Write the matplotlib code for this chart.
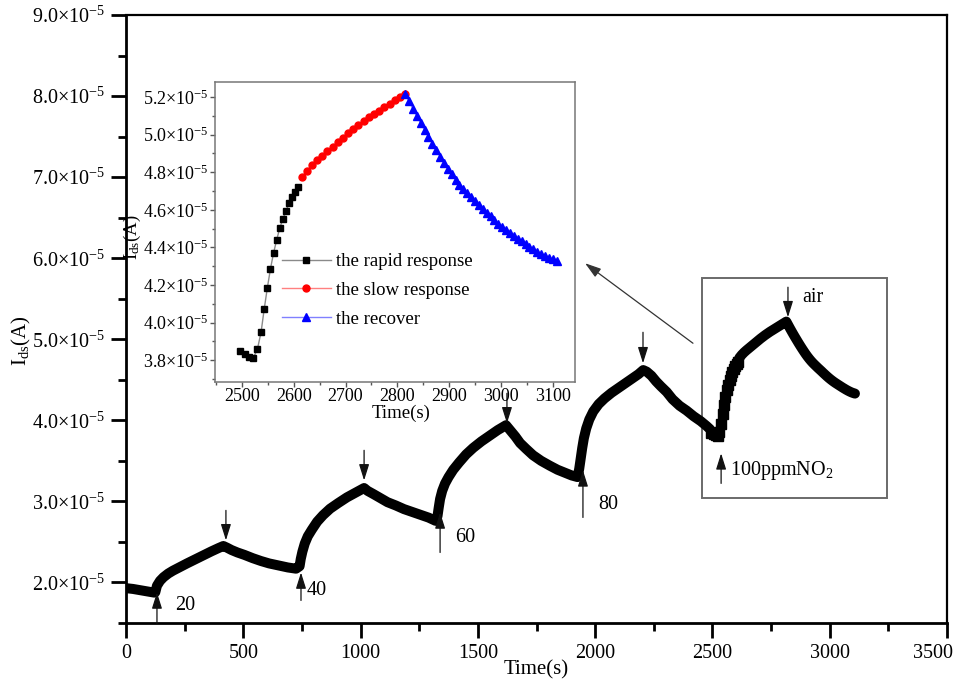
import numpy as np
import matplotlib
matplotlib.use('Agg')
import matplotlib.pyplot as plt
from matplotlib.ticker import MultipleLocator, FuncFormatter
from matplotlib.patches import Rectangle
from matplotlib.transforms import ScaledTranslation

plt.rcParams['font.family'] = ['Liberation Serif', 'DejaVu Serif']
plt.rcParams['mathtext.fontset'] = 'custom'
plt.rcParams['mathtext.rm'] = 'Liberation Serif'
plt.rcParams['mathtext.it'] = 'Liberation Serif:italic'
plt.rcParams['mathtext.bf'] = 'Liberation Serif:bold'

SCALE = 1e-5  # values below are in units of 1e-5 A

# ---- cycles for 20, 40, 60, 80 ppm (time s, Ids x1e-5 A) ----
t_early = [0, 30, 60, 90, 120,
           125, 132, 145, 160, 180, 200, 230, 260, 295, 330, 365, 395, 415,
           430, 450, 475, 505, 540, 575, 610, 650, 690, 725,
           740, 745, 752, 762, 775, 792, 815, 840, 870, 905, 942, 980, 1015,
           1030, 1055, 1085, 1115, 1150, 1185, 1220, 1255, 1290, 1320,
           1328, 1333, 1339, 1348, 1360, 1375, 1395, 1420, 1450, 1480, 1515, 1550, 1585, 1620,
           1640, 1660, 1680, 1705, 1735, 1770, 1807, 1840, 1870, 1900, 1925,
           1932, 1938, 1945, 1952, 1962, 1975, 1992, 2015, 2040, 2070, 2100, 2130, 2160, 2185, 2205,
           2220, 2240, 2260, 2280, 2305, 2330, 2360, 2390, 2420, 2450, 2475, 2490]
i_early = [1.93, 1.92, 1.905, 1.89, 1.875,
           1.88, 1.96, 2.02, 2.065, 2.11, 2.145, 2.19, 2.235, 2.285, 2.335, 2.385, 2.425, 2.45,
           2.43, 2.40, 2.37, 2.34, 2.30, 2.265, 2.235, 2.21, 2.185, 2.17,
           2.20, 2.29, 2.38, 2.48, 2.57, 2.65, 2.75, 2.83, 2.91, 2.98, 3.05, 3.11, 3.165,
           3.13, 3.09, 3.04, 2.99, 2.95, 2.905, 2.87, 2.835, 2.80, 2.76,
           2.82, 2.92, 3.03, 3.13, 3.22, 3.30, 3.39, 3.48, 3.58, 3.66, 3.74, 3.81, 3.88, 3.94,
           3.87, 3.80, 3.72, 3.65, 3.57, 3.50, 3.44, 3.39, 3.355, 3.32, 3.30,
           3.40, 3.52, 3.66, 3.78, 3.90, 4.01, 4.11, 4.20, 4.27, 4.34, 4.40, 4.46, 4.52, 4.57, 4.62,
           4.60, 4.55, 4.48, 4.42, 4.35, 4.26, 4.18, 4.12, 4.05, 3.99, 3.93, 3.89]

# ---- 100 ppm NO2 cycle (also the inset) ----
t_rapid = [2496, 2505, 2514, 2522, 2530, 2537, 2543, 2549, 2555, 2561, 2567, 2573,
           2579, 2585, 2591, 2597, 2603, 2609]
i_rapid = [3.849, 3.833, 3.817, 3.812, 3.860, 3.950, 4.072, 4.184, 4.285, 4.370, 4.439, 4.503,
           4.551, 4.594, 4.636, 4.668, 4.695, 4.721]
t_slow = [2615, 2625, 2635, 2645, 2655, 2665, 2675, 2685, 2695, 2705, 2715, 2725,
          2735, 2745, 2755, 2765, 2775, 2785, 2795, 2805, 2815]
i_slow = [4.772, 4.808, 4.838, 4.864, 4.888, 4.912, 4.936, 4.960, 4.984, 5.008, 5.030, 5.052,
          5.072, 5.092, 5.110, 5.128, 5.146, 5.164, 5.182, 5.200, 5.218]
t_recover = list(np.arange(2815, 3110, 7.5))
i_recover = [5.218, 5.178, 5.138, 5.099, 5.061, 5.024, 4.988, 4.952, 4.917, 4.883,
             4.850, 4.818, 4.788, 4.760, 4.734, 4.710, 4.688, 4.667, 4.646, 4.626,
             4.606, 4.585, 4.565, 4.545, 4.526, 4.508, 4.491, 4.475, 4.460, 4.446,
             4.432, 4.418, 4.404, 4.391, 4.378, 4.366, 4.355, 4.345, 4.337, 4.330]

conc_labels = ['20', '40', '60', '80', '100ppmNO$_2$']
gas_on = [132, 746, 1339, 1948, 2537]
gas_off = [426, 1015, 1624, 2204, 2822]

def A(v):
    return np.asarray(v, dtype=float) * SCALE

fig = plt.figure(figsize=(9.57, 6.83), dpi=100)
ax = fig.add_axes([126/957, 1-623/683, 821/957, 608/683])

# main curve
ax.plot(t_early, A(i_early), color='black', lw=7.2,
        solid_joinstyle='round', solid_capstyle='round', zorder=3)
ax.plot(t_rapid, A(i_rapid), ls='none', color='black', marker='s', ms=7, zorder=3)
ax.plot(t_rapid[-1:] + t_slow + t_recover, A(i_rapid[-1:] + i_slow + i_recover),
        color='black', lw=7.2, solid_joinstyle='round', solid_capstyle='round', zorder=3)

ax.set_xlim(0, 3500)
ax.set_ylim(1.5e-5, 9.0e-5)
ax.set_xticks(np.arange(0, 3501, 500))
ax.xaxis.set_minor_locator(MultipleLocator(250))
ax.yaxis.set_major_locator(MultipleLocator(1e-5))
ax.yaxis.set_minor_locator(MultipleLocator(0.5e-5))
ax.yaxis.set_major_formatter(FuncFormatter(lambda v, p: f"{v/SCALE:.1f}×10$^{{-5}}$"))
ax.tick_params(which='major', direction='out', length=11, width=2, labelsize=14.5, pad=4,
               top=False, right=False)
ax.tick_params(which='minor', direction='out', length=6, width=2, top=False, right=False)
for s in ['left', 'bottom']:
    ax.spines[s].set_linewidth(2.0)
for s in ['top', 'right']:
    ax.spines[s].set_linewidth(1.6)
last = ax.get_xticklabels()[-1]
last.set_transform(last.get_transform() + ScaledTranslation(-10/72, 0, fig.dpi_scale_trans))

ax.set_xlabel('Time(s)', fontsize=15)
ax.xaxis.set_label_coords(0.5, -0.062)
ax.set_ylabel('I$_{\\rm ds}$(A)', fontsize=15)
ax.yaxis.set_label_coords(-0.113, 0.465)

# arrows
arrow_kw = dict(arrowstyle='-|>,head_length=0.7,head_width=0.22', color='#111111', lw=0.9,
                shrinkA=0, shrinkB=0, mutation_scale=14)
on_tail = [1.494, 1.778, 2.37, 2.802, 3.222]
on_tip = [1.877, 2.123, 2.864, 3.383, 3.593]
off_tail = [2.889, 3.63, 4.333, 5.086, 5.642]
off_tip = [2.52, 3.259, 3.963, 4.704, 5.272]
for k in range(5):
    ax.annotate('', xy=(gas_on[k], on_tip[k]*SCALE), xytext=(gas_on[k], on_tail[k]*SCALE),
                arrowprops=arrow_kw, zorder=4)
    ax.annotate('', xy=(gas_off[k], off_tip[k]*SCALE), xytext=(gas_off[k], off_tail[k]*SCALE),
                arrowprops=arrow_kw, zorder=4)

label_pos = [(252, 1.716, 'center'), (770, 1.901, 'left'), (1445, 2.556, 'center'),
             (2055, 2.963, 'center'), (2575, 3.383, 'left')]
for (x, y, ha), lab in zip(label_pos, conc_labels):
    ax.text(x, y*SCALE, lab, fontsize=14.5, ha=ha, va='center')
ax.text(2882, 5.519*SCALE, 'air', fontsize=14.5, ha='left', va='center')

# box around last cycle
ax.add_patch(Rectangle((2455, 3.037e-5), 789, 2.716e-5, fill=False, edgecolor='#6a6a6a', lw=1.4,
                       zorder=2))
ax.annotate('', xy=(1957, 5.938e-5), xytext=(2417, 4.951e-5),
            arrowprops=dict(arrowstyle='-|>,head_length=0.7,head_width=0.22', color='#333333',
                            lw=0.9, shrinkA=0, shrinkB=0, mutation_scale=14))

# ---- inset ----
ins = fig.add_axes([215/957, 1-382/683, 360/957, 300/683])
ins.plot(t_rapid, A(i_rapid), color='#8a8a8a', lw=1, marker='s', ms=4.4, mfc='black',
         mec='black', label='the rapid response', zorder=3)
ins.plot(t_slow, A(i_slow), color='#ff8080', lw=1, marker='o', ms=5, mfc='#ff0000',
         mec='#ff0000', label='the slow response', zorder=3)
ins.plot(t_recover, A(i_recover), color='#8080ff', lw=1, marker='^', ms=5.2, mfc='#0000ff',
         mec='#0000ff', label='the recover', zorder=3)
ins.set_xlim(2448, 3143)
ins.set_ylim(3.684e-5, 5.28e-5)
ins.xaxis.set_major_locator(MultipleLocator(100))
ins.xaxis.set_minor_locator(MultipleLocator(50))
ins.yaxis.set_major_locator(MultipleLocator(0.2e-5))
ins.yaxis.set_minor_locator(MultipleLocator(0.1e-5))
ins.yaxis.set_major_formatter(FuncFormatter(lambda v, p: f"{v/SCALE:.1f}×10$^{{-5}}$"))
ins.tick_params(which='major', direction='out', length=3.5, width=1, labelsize=13, pad=1,
                color='#555555')
ins.tick_params(which='minor', direction='out', length=2, width=1, color='#555555')
for s in ins.spines.values():
    s.set_edgecolor('#777777')
    s.set_linewidth(1.1)
ins.set_xlabel('Time(s)', fontsize=13.5)
ins.xaxis.set_label_coords(0.517, -0.075)
ins.set_ylabel('I$_{\\rm ds}$(A)', fontsize=13.5)
ins.yaxis.set_label_coords(-0.2, 0.483)
ins.legend(loc='upper left', bbox_to_anchor=(0.165, 0.455), frameon=False, fontsize=13.5,
           handlelength=2.6, handletextpad=0.3, labelspacing=0.62, borderaxespad=0)

fig.savefig('out.png', dpi=100)
